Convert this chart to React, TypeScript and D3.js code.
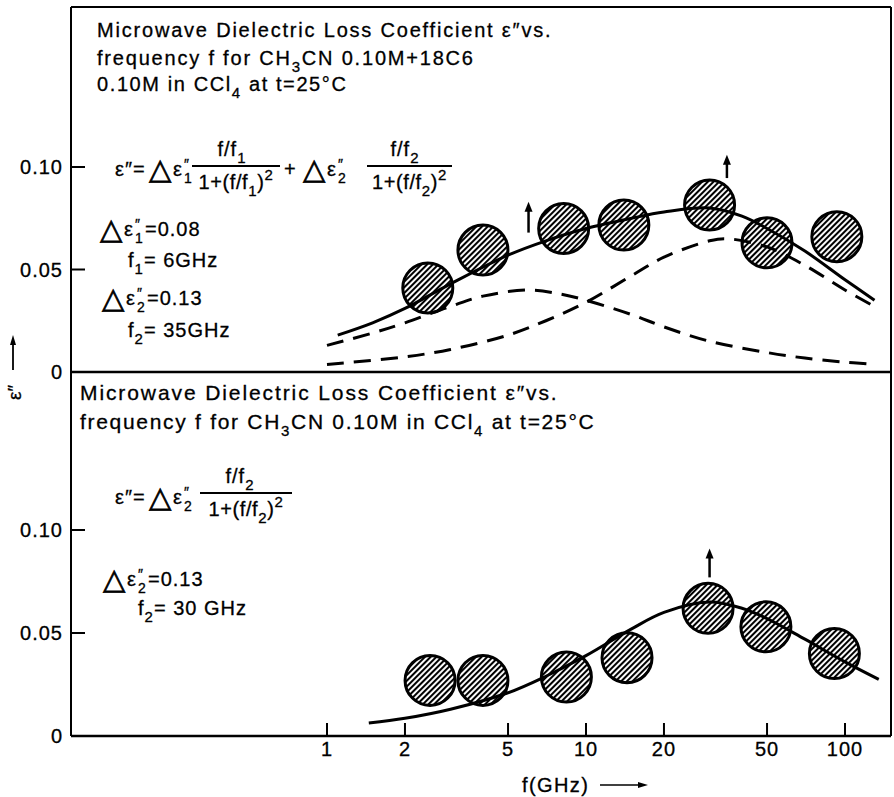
import * as d3 from "d3";
import React from "react";

// measured points (GHz, eps'')
const freqTop = [2.45, 4.0, 8.2, 14, 30, 50, 93];
const epsTop = [0.041, 0.0595, 0.07, 0.0717, 0.0815, 0.063, 0.066];
const freqBottom = [2.5, 4.0, 8.4, 14.4, 29.6, 49.5, 91];
const epsBottom = [0.027, 0.027, 0.0286, 0.038, 0.062, 0.053, 0.04];

// fitted curves
const fitTopF = [1.1, 1.5, 2, 3, 5, 7, 10, 15, 20, 30, 40, 50, 70, 100, 130];
const fitTopE = [0.018, 0.024, 0.031, 0.043, 0.057, 0.064, 0.07, 0.075, 0.078, 0.08, 0.076, 0.07, 0.059, 0.045, 0.035];
const comp1F = [1, 1.5, 2, 3, 4, 6, 8, 10, 15, 20, 30, 50, 70, 100, 123];
const comp1E = [0.013, 0.019, 0.024, 0.032, 0.037, 0.04, 0.038, 0.035, 0.028, 0.022, 0.015, 0.0095, 0.0068, 0.0048, 0.0039];
const comp2F = [1, 2, 3, 5, 7, 10, 15, 20, 30, 35, 50, 70, 100, 134];
const comp2E = [0.0037, 0.0074, 0.011, 0.018, 0.025, 0.034, 0.047, 0.056, 0.064, 0.065, 0.061, 0.052, 0.04, 0.031];
const fitBotF = [1.45, 2, 3, 5, 7, 10, 15, 20, 30, 40, 50, 70, 100, 135];
const fitBotE = [0.0063, 0.0086, 0.013, 0.021, 0.029, 0.039, 0.052, 0.06, 0.065, 0.062, 0.057, 0.047, 0.036, 0.0275];

// relaxation frequency arrows: f, base value, tip value
const arrowTopF = [6, 35];
const arrowTopLo = [0.068, 0.0946];
const arrowTopHi = [0.083, 0.106];
const arrowBotF = [30];
const arrowBotLo = [0.077];
const arrowBotHi = [0.091];

const xTicks = [1, 2, 5, 10, 20, 50, 100];
const yTicks = [0, 0.05, 0.1];
const yTickLabels = ["0", "0.05", "0.10"];

const FONT = "'Liberation Sans', Arial, sans-serif";

const x = d3.scaleLog().domain([1, 100]).range([327, 845]);
const yTop = d3.scaleLinear().domain([0, 0.1]).range([372, 167]);
const yBot = d3.scaleLinear().domain([0, 0.1]).range([736, 530]);

const L = 71, R = 891, T = 7, B = 736, MID = 372;

const lineFor = (y: any) =>
  d3.line<[number, number]>()
    .x((d) => x(d[0]))
    .y((d) => y(d[1]))
    .curve(d3.curveCatmullRom);

const zip = (a: number[], b: number[]) => a.map((v, i) => [v, b[i]] as [number, number]);

const T_ = (props: any) => (
  <text fontFamily={FONT} fontSize={20} stroke="#000" strokeWidth={0.3} fill="#000" {...props} />
);

// parts: plain strings, or ["_", "3"] for subscript, ["^", "2"] for superscript
const Rich = ({ parts, ...rest }: any) => {
  let level = 0;
  const out: any[] = [];
  parts.forEach((p: any, i: number) => {
    const target = typeof p === "string" ? 0 : p[0] === "_" ? 7 : -9;
    const txt = typeof p === "string" ? p : p[1];
    out.push(
      <tspan key={i} dy={target - level} fontSize={target === 0 ? undefined : 15}>{txt}</tspan>
    );
    level = target;
  });
  return <T_ {...rest}>{out}</T_>;
};

// Δε with stacked ″ and subscript
const DeltaEps = ({ x0, y0, sub }: any) => (
  <g>
    <T_ x={x0 - 3} y={y0 + 3} fontFamily="'DejaVu Sans', sans-serif" fontSize={29} strokeWidth={0.7}>△</T_>
    <T_ x={x0 + 21} y={y0}>ε</T_>
    <T_ x={x0 + 32} y={y0 - 7} fontSize={14}>″</T_>
    <T_ x={x0 + 32} y={y0 + 7} fontSize={14}>{sub}</T_>
  </g>
);

const Arrow = ({ x0, y0, y1 }: any) => (
  <g>
    <line x1={x0} x2={x0} y1={y0} y2={y1 + 8} stroke="#000" strokeWidth={2.5} />
    <path d={`M${x0 - 4},${y1 + 10} L${x0},${y1} L${x0 + 4},${y1 + 10} Z`} fill="#000" />
  </g>
);

const Points = ({ f, e, y }: any) => (
  <g>
    {f.map((fv: number, i: number) => (
      <circle key={i} cx={x(fv)} cy={y(e[i])} r={25} fill="url(#hatch)" stroke="#000" strokeWidth={3} />
    ))}
  </g>
);

const Frac = ({ cx, x1, x2, ly, sub }: any) => (
  <g>
    <Rich x={cx} y={ly - 10} textAnchor="middle" letterSpacing={1} parts={["f/f", ["_", sub]]} />
    <line x1={x1} x2={x2} y1={ly} y2={ly} stroke="#000" strokeWidth={1.8} />
    <Rich x={(x1 + x2) / 2} y={ly + 23} textAnchor="middle" letterSpacing={0.6}
      parts={["1+(f/f", ["_", sub], ")", ["^", "2"]]} />
  </g>
);

export default function App() {
  return (
    <svg width={894} height={797} style={{ position: "absolute", left: 0, top: 0, background: "#fff" }}>
      <defs>
        <pattern id="hatch" patternUnits="userSpaceOnUse" width={4} height={4} patternTransform="rotate(45)">
          <rect width={4} height={4} fill="#fff" />
          <line x1={1} x2={1} y1={0} y2={4} stroke="#000" strokeWidth={2.1} />
        </pattern>
      </defs>

      {/* frame */}
      <g stroke="#000" strokeWidth={2} fill="none">
        <line x1={L} x2={R} y1={T} y2={T} />
        <line x1={L} x2={L} y1={T} y2={B} />
        <line x1={R} x2={R} y1={T} y2={B} />
        <line x1={L} x2={R} y1={MID} y2={MID} strokeWidth={2.5} />
        <line x1={L} x2={R} y1={B} y2={B} strokeWidth={2.5} />
      </g>

      {/* y ticks */}
      {[yTop, yBot].map((y, k) => (
        <g key={k}>
          {yTicks.map((t, i) => (
            <g key={i}>
              {t > 0 && <line x1={L} x2={L + 14} y1={y(t)} y2={y(t)} stroke="#000" strokeWidth={2} />}
              <T_ x={63} y={y(t) + 7} textAnchor="end" letterSpacing={1}>{yTickLabels[i]}</T_>
            </g>
          ))}
        </g>
      ))}

      {/* x ticks */}
      {xTicks.map((t) => (
        <g key={t}>
          <line x1={x(t)} x2={x(t)} y1={B} y2={B - 13} stroke="#000" strokeWidth={2} />
          <T_ x={x(t)} y={756} textAnchor="middle" letterSpacing={1}>{t}</T_>
        </g>
      ))}
      <T_ x={522} y={792} letterSpacing={1.4}>f(GHz)</T_>
      <line x1={600} x2={640} y1={785} y2={785} stroke="#000" strokeWidth={1.5} />
      <path d="M638,782 L648,785 L638,788 Z" fill="#000" />

      {/* y label */}
      <line x1={13} x2={13} y1={370} y2={343} stroke="#000" strokeWidth={1.8} />
      <path d="M10,345 L13,335 L16,345 Z" fill="#000" />
      <T_ transform="translate(21,400) rotate(-90)" fontSize={19}>ε″</T_>

      {/* top panel data */}
      <Points f={freqTop} e={epsTop} y={yTop} />
      <path d={lineFor(yTop)(zip(comp1F, comp1E)) || ""} fill="none" stroke="#000" strokeWidth={3} strokeDasharray="17,10" />
      <path d={lineFor(yTop)(zip(comp2F, comp2E)) || ""} fill="none" stroke="#000" strokeWidth={3} strokeDasharray="17,10" />
      <path d={lineFor(yTop)(zip(fitTopF, fitTopE)) || ""} fill="none" stroke="#000" strokeWidth={3} />
      {arrowTopF.map((f, i) => (
        <Arrow key={i} x0={x(f)} y0={yTop(arrowTopLo[i])} y1={yTop(arrowTopHi[i])} />
      ))}

      {/* bottom panel data */}
      <Points f={freqBottom} e={epsBottom} y={yBot} />
      <path d={lineFor(yBot)(zip(fitBotF, fitBotE)) || ""} fill="none" stroke="#000" strokeWidth={3} />
      {arrowBotF.map((f, i) => (
        <Arrow key={i} x0={x(f)} y0={yBot(arrowBotLo[i])} y1={yBot(arrowBotHi[i])} />
      ))}

      {/* top panel text */}
      <T_ x={97} y={37} letterSpacing={1.8}>Microwave Dielectric Loss Coefficient ε″vs.</T_>
      <Rich x={97} y={65} letterSpacing={1.8} parts={["frequency f for CH", ["_", "3"], "CN 0.10M+18C6"]} />
      <Rich x={97} y={91} letterSpacing={1.6} parts={["0.10M in CCl", ["_", "4"], " at t=25°C"]} />

      <T_ x={115} y={176} letterSpacing={1}>ε″=</T_>
      <DeltaEps x0={152} y0={176} sub="1" />
      <Frac cx={232} x1={192} x2={280} ly={166} sub="1" />
      <T_ x={284} y={176}>+</T_>
      <DeltaEps x0={306} y0={176} sub="2" />
      <Frac cx={405} x1={367} x2={452} ly={166} sub="2" />

      <DeltaEps x0={103} y0={236} sub="1" />
      <T_ x={145} y={236} letterSpacing={1}>=0.08</T_>
      <Rich x={128} y={267} letterSpacing={1} parts={["f", ["_", "1"], "= 6GHz"]} />
      <DeltaEps x0={105} y0={305} sub="2" />
      <T_ x={147} y={305} letterSpacing={1}>=0.13</T_>
      <Rich x={128} y={337} letterSpacing={1} parts={["f", ["_", "2"], "= 35GHz"]} />

      {/* bottom panel text */}
      <T_ x={80} y={400} fontSize={21} letterSpacing={1.9}>Microwave Dielectric Loss Coefficient ε″vs.</T_>
      <Rich x={80} y={429} fontSize={21} letterSpacing={1.7}
        parts={["frequency f for CH", ["_", "3"], "CN 0.10M in CCl", ["_", "4"], " at t=25°C"]} />

      <T_ x={115} y={504} letterSpacing={1}>ε″=</T_>
      <DeltaEps x0={152} y0={504} sub="2" />
      <Frac cx={240} x1={200} x2={292} ly={493} sub="2" />

      <DeltaEps x0={106} y0={586} sub="2" />
      <T_ x={148} y={586} letterSpacing={1}>=0.13</T_>
      <Rich x={138} y={615} letterSpacing={1} parts={["f", ["_", "2"], "= 30 GHz"]} />
    </svg>
  );
}
